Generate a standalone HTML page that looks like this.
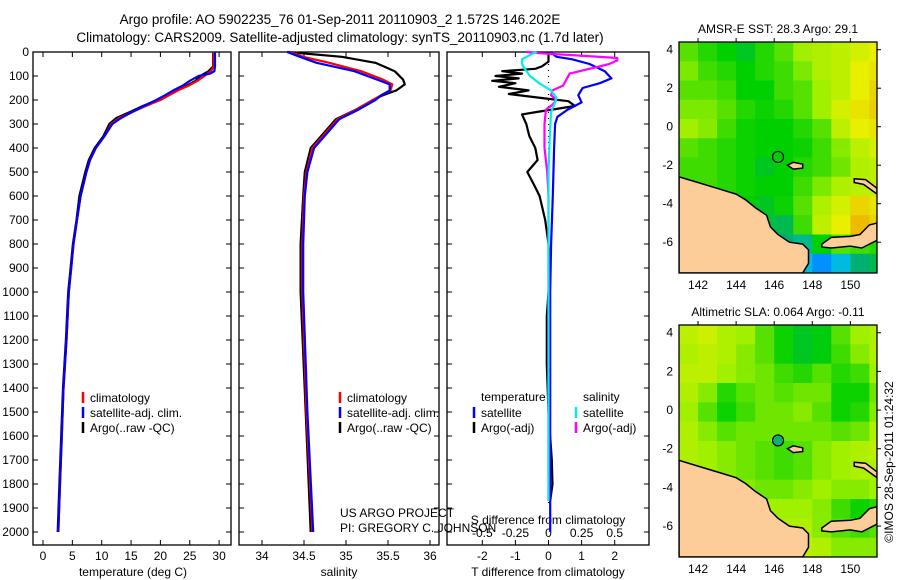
<!DOCTYPE html>
<html><head><meta charset="utf-8"><style>
html,body{margin:0;padding:0;background:#fff;}
svg{display:block;font-family:"Liberation Sans",sans-serif;}
</style></head><body>
<svg id="fig" width="900" height="580" viewBox="0 0 900 580">
<text x="340" y="24" font-size="13.5" text-anchor="middle">Argo profile: AO 5902235_76 01-Sep-2011 20110903_2 1.572S 146.202E</text>
<text x="340" y="42" font-size="13.5" text-anchor="middle">Climatology: CARS2009. Satellite-adjusted climatology: synTS_20110903.nc (1.7d later)</text>
<g id="p1"></g>
<g id="p2"></g>
<g id="p3"></g>
<g id="m1"></g>
<g id="m2"></g>
<text transform="translate(893,462) rotate(-90)" font-size="12" text-anchor="middle">©IMOS 28-Sep-2011 01:24:32</text>
</svg>
<script>
// ---- data ----
const tDepths=[0,20,40,60,80,90,100,120,140,160,180,200,225,250,275,300,350,400,450,500,600,700,800,900,1000,1200,1400,1600,1800,2000];
const tArgo=[29.0,29.0,29.0,29.0,28.2,27.5,26.8,26.0,24.5,22.5,21.0,19.5,17.0,14.8,12.5,11.3,10.3,8.8,7.8,7.2,6.2,5.7,5.1,4.7,4.3,3.9,3.4,3.1,2.8,2.5];
const tClim=[29.1,29.1,29.1,29.1,28.6,28.0,27.5,26.3,24.8,23.0,21.5,20.0,17.5,15.2,13.0,11.6,10.5,9.0,8.0,7.4,6.4,5.8,5.2,4.8,4.4,4.0,3.5,3.2,2.9,2.6];
const tSat=[29.3,29.3,29.3,29.3,29.2,28.5,26.5,25.0,23.8,22.2,20.8,19.3,17.2,15.2,13.3,11.8,10.5,9.0,8.0,7.4,6.4,5.8,5.2,4.8,4.4,4.0,3.5,3.2,2.9,2.6];
const sDepths=[0,20,45,80,115,135,160,180,200,240,280,340,400,500,600,800,1000,1500,2000];
const sArgo=[34.30,34.95,35.35,35.58,35.68,35.70,35.60,35.44,35.32,35.12,34.88,34.73,34.58,34.51,34.49,34.46,34.46,34.52,34.58];
const sClim=[34.33,34.49,34.80,35.18,35.44,35.55,35.53,35.42,35.32,35.13,34.90,34.75,34.60,34.53,34.50,34.48,34.48,34.53,34.60];
const sSat=[34.30,34.45,34.65,35.10,35.37,35.52,35.52,35.42,35.35,35.15,34.92,34.77,34.62,34.54,34.51,34.49,34.49,34.54,34.61];
const dtArgoDepths=[0,20,40,60,70,80,90,100,110,120,130,145,160,175,190,205,225,250,260,300,350,400,450,500,550,600,700,800,900,1000,1100,1300,1500,1700,1800,1870];
const dtArgo=[0.0,0.0,0.0,-0.2,-0.4,-1.4,-0.8,-1.6,-0.9,-1.7,-1.0,-1.5,-0.6,-1.2,-0.3,0.6,0.8,-0.36,-0.8,-0.67,-0.58,-0.4,-0.33,-0.64,-0.45,-0.27,-0.1,0.0,0.05,0.0,-0.05,-0.05,0.0,0.1,0.12,0.05];
const dtSatDepths=[0,20,30,50,80,110,130,150,180,210,240,270,300,400,600,800,1000,1500,2000];
const dtSat=[0.05,0.24,0.7,1.24,1.7,1.9,1.55,1.03,0.9,1.0,0.58,0.27,0.2,0.17,0.13,0.08,0.05,0.05,0.05];
const dsArgoDepths=[0,5,15,25,35,50,70,90,110,140,160,180,200,220,240,300,400,500,600,1000,1500,1870];
const dsArgo=[-0.17,-0.07,0.24,0.52,0.52,0.46,0.31,0.16,0.14,0.11,0.03,0.02,0.06,0.03,-0.02,-0.03,-0.03,-0.01,0.0,0.0,0.0,0.0];
const dsSatDepths=[0,10,30,50,70,100,130,160,190,210,250,350,500,1000,1500,1870];
const dsSat=[-0.09,-0.13,-0.2,-0.2,-0.18,-0.14,-0.07,0.02,0.06,0.05,0.02,0.01,0.0,0.0,0.0,0.0];
const depthTicks=[0,100,200,300,400,500,600,700,800,900,1000,1100,1200,1300,1400,1500,1600,1700,1800,1900,2000];
const tTicks=[0,5,10,15,20,25,30];
const sTicks=[34,34.5,35,35.5,36];
const dtTicks=[-2,-1,0,1,2];
const dsTicks=[-0.5,-0.25,0,0.25,0.5];
const dsTickLabels=["-0.5","-0.25","0","0.25","0.5"];
const lonTicks=[142,144,146,148,150];
const latTicks=[4,2,0,-2,-4,-6];
const sstGrid=[
[.62,.58,.55,.52,.58,.62,.68,.70,.72,.75,.78],
[.65,.60,.58,.55,.58,.60,.65,.70,.72,.78,.80],
[.62,.62,.60,.55,.55,.60,.62,.68,.72,.78,.82],
[.65,.65,.62,.58,.56,.58,.62,.68,.75,.80,.83],
[.68,.66,.60,.56,.55,.55,.58,.62,.72,.78,.80],
[.62,.60,.58,.56,.55,.55,.56,.60,.66,.72,.75],
[.60,.60,.58,.56,.52,.55,.58,.60,.64,.70,.72],
[.60,.60,.58,.56,.55,.55,.60,.65,.70,.72,.72],
[.58,.58,.56,.55,.52,.56,.62,.70,.75,.82,.80],
[.55,.55,.50,.48,.50,.48,.60,.72,.78,.86,.82],
[.50,.50,.45,.45,.45,.45,.42,.55,.62,.60,.58],
[.45,.45,.42,.42,.40,.42,.30,.20,.30,.45,.48]];
const slaGrid=[
[.72,.74,.70,.68,.62,.56,.52,.54,.62,.68,.70],
[.70,.72,.70,.66,.62,.56,.52,.54,.60,.66,.70],
[.72,.72,.68,.66,.64,.60,.58,.62,.58,.60,.68],
[.70,.66,.58,.62,.64,.62,.64,.64,.56,.56,.64],
[.68,.62,.56,.60,.64,.64,.66,.62,.56,.58,.66],
[.70,.66,.62,.64,.64,.64,.64,.64,.62,.64,.70],
[.70,.68,.66,.64,.62,.60,.62,.66,.68,.70,.72],
[.70,.68,.66,.64,.62,.60,.62,.66,.68,.70,.70],
[.70,.68,.68,.66,.64,.64,.66,.68,.66,.66,.68],
[.70,.70,.70,.68,.68,.68,.68,.66,.60,.56,.58],
[.70,.70,.70,.70,.70,.70,.70,.66,.62,.60,.62],
[.70,.70,.72,.72,.72,.72,.72,.70,.66,.66,.66]];
const mainland=[[141,-2.6],[142,-2.9],[143,-3.2],[144,-3.5],[144.5,-3.8],[145,-4.2],[145.6,-4.6],[145.8,-5.2],[146.2,-5.6],[146.8,-6.0],[147.5,-6.1],[147.8,-6.4],[147.8,-7.1],[147.5,-7.6],[141,-7.6]];
const newBritain=[[148.5,-6.1],[149,-5.75],[150,-5.7],[150.5,-5.6],[151,-5.1],[151.4,-5.0],[151.4,-5.9],[150.6,-6.3],[150,-6.2],[149,-6.3],[148.5,-6.25]];
const manus=[[146.7,-2.0],[147.0,-1.85],[147.5,-1.95],[147.5,-2.15],[147.0,-2.2]];
const newIreland=[[150.2,-2.7],[150.8,-2.75],[151.4,-3.2],[151.4,-3.5],[150.7,-3.0],[150.2,-2.9]];
const argoLon=146.202, argoLat=-1.572;

const NS="http://www.w3.org/2000/svg";
function mk(parent,tag,attrs,text){const e=document.createElementNS(NS,tag);for(const k in attrs)e.setAttribute(k,attrs[k]);if(text!==undefined)e.textContent=text;parent.appendChild(e);return e;}
const yD=d=>52+d*0.24;

function panel(g,x0,x1,showDepthLabels){
  const f=mk(g,'rect',{x:x0,y:52,width:x1-x0,height:493,fill:'none',stroke:'#000','stroke-width':1.3});
  
  
  depthTicks.forEach(d=>{
    mk(g,'line',{x1:x0,x2:x0+5,y1:yD(d),y2:yD(d),stroke:'#000'});
    mk(g,'line',{x1:x1-5,x2:x1,y1:yD(d),y2:yD(d),stroke:'#000'});
    if(showDepthLabels){const t=mk(g,'text',{x:x0-4,y:yD(d)+4,'font-size':12,'text-anchor':'end'},String(d));
      
      }
  });
}
function xTicks(g,vals,labels,sx,yLab,top,bot){
  vals.forEach((v,i)=>{const x=sx(v);
    if(top)mk(g,'line',{x1:x,x2:x,y1:52,y2:57,stroke:'#000'});
    if(bot)mk(g,'line',{x1:x,x2:x,y1:540,y2:545,stroke:'#000'});
    const t=mk(g,'text',{x:x,y:yLab,'font-size':12,'text-anchor':'middle'},labels[i]);
    
    
  });
}
function line(g,depths,vals,sx,color,name,w){
  const pts=depths.map((d,i)=>sx(vals[i]).toFixed(1)+','+yD(d).toFixed(1)).join(' ');
  const p=mk(g,'polyline',{points:pts,fill:'none',stroke:color,'stroke-width':w||2.2,'stroke-linejoin':'round'});
  
  
}
function legendEntry(g,x,y,color,label){
  mk(g,'line',{x1:x,x2:x,y1:y-10,y2:y+1,stroke:color,'stroke-width':2.5});
  const t=mk(g,'text',{x:x+7,y:y,'font-size':12},label);
  
  
}

// Panel 1: temperature
const g1=document.getElementById('p1');
const sxT=v=>43+v*5.87;
panel(g1,33,231,true);
xTicks(g1,tTicks,tTicks.map(String),sxT,560,true,true);
mk(g1,'text',{x:133,y:576,'font-size':12,'text-anchor':'middle',},'temperature (deg C)');
line(g1,tDepths,tArgo,sxT,'#000','temp-argo-line');
line(g1,tDepths,tClim,sxT,'#f00','temp-climatology-line');
line(g1,tDepths,tSat,sxT,'#00f','temp-satellite-line');
legendEntry(g1,83,402,'#f00','climatology');
legendEntry(g1,83,417,'#00f','satellite-adj. clim.');
legendEntry(g1,83,432,'#000','Argo(..raw -QC)');

// Panel 2: salinity
const g2=document.getElementById('p2');
const sxS=v=>262+(v-34)*84;
panel(g2,239,439,false);
xTicks(g2,sTicks,sTicks.map(String),sxS,560,true,true);
mk(g2,'text',{x:339,y:576,'font-size':12,'text-anchor':'middle',},'salinity');
line(g2,sDepths,sArgo,sxS,'#000','sal-argo-line');
line(g2,sDepths,sClim,sxS,'#f00','sal-climatology-line');
line(g2,sDepths,sSat,sxS,'#00f','sal-satellite-line');
legendEntry(g2,340,402,'#f00','climatology');
legendEntry(g2,340,417,'#00f','satellite-adj. clim.');
legendEntry(g2,340,432,'#000','Argo(..raw -QC)');
mk(g2,'text',{x:340,y:517,'font-size':12,},'US ARGO PROJECT');
mk(g2,'text',{x:340,y:532,'font-size':12,},'PI: GREGORY C. JOHNSON');

// Panel 3: differences
const g3=document.getElementById('p3');
const sxDT=v=>548.5+v*33.1;
const sxDS=v=>548.5+v*132.4;
panel(g3,447,649,false);
xTicks(g3,dtTicks,dtTicks.map(String),sxDT,560,true,true);
dsTicks.forEach((v,i)=>{const t=mk(g3,'text',{x:sxDS(v),y:537,'font-size':12,'text-anchor':'middle'},dsTickLabels[i]);
  
  });
mk(g3,'text',{x:548,y:524,'font-size':12,'text-anchor':'middle',},'S difference from climatology');
mk(g3,'text',{x:548,y:576,'font-size':12,'text-anchor':'middle',},'T difference from climatology');
mk(g3,'line',{x1:sxDT(0),x2:sxDT(0),y1:52,y2:yD(1900),stroke:'#000','stroke-dasharray':'1 5','stroke-width':1.2});
line(g3,dtArgoDepths,dtArgo,sxDT,'#000','t-diff-argo-line');
line(g3,dtSatDepths,dtSat,sxDT,'#00f','t-diff-satellite-line');
line(g3,dsArgoDepths,dsArgo,sxDS,'#f0f','s-diff-argo-line');
line(g3,dsSatDepths,dsSat,sxDS,'#0ee','s-diff-satellite-line');
mk(g3,'text',{x:481,y:401,'font-size':12,},'temperature');
mk(g3,'text',{x:583,y:401,'font-size':12,},'salinity');
legendEntry(g3,474,417,'#00f','satellite');
legendEntry(g3,474,432,'#000','Argo(-adj)');
legendEntry(g3,576,417,'#0ee','satellite');
legendEntry(g3,576,432,'#f0f','Argo(-adj)');

// Maps
const stops=[[0,[0,0,160]],[0.2,[0,144,255]],[0.35,[0,208,208]],[0.45,[0,176,112]],[0.55,[0,208,0]],[0.68,[160,240,0]],[0.78,[232,240,0]],[0.9,[240,160,0]],[1,[240,96,0]]];
function cmap(v){for(let i=1;i<stops.length;i++){if(v<=stops[i][0]){const a=stops[i-1],b=stops[i],t=(v-a[0])/(b[0]-a[0]);
  return 'rgb('+a[1].map((c,k)=>Math.round(c+(b[1][k]-c)*t)).join(',')+')';}}return 'rgb(240,96,0)';}
function drawMap(gid,y0,y1,grid,title){
  const g=document.getElementById(gid);
  const x0=679,x1=877,lon0=141,lon1=151.4,lat0=4.4,lat1=-7.6;
  const sx=l=>x0+(l-lon0)*(x1-x0)/(lon1-lon0);
  const sy=l=>y0+(lat0-l)*(y1-y0)/(lat0-lat1);
  const clip=gid+'clip';
  const cp=mk(g,'clipPath',{id:clip});mk(cp,'rect',{x:x0,y:y0,width:x1-x0,height:y1-y0});
  const cells=mk(g,'g',{'clip-path':'url(#'+clip+')'});
  grid.forEach((row,r)=>row.forEach((v,c)=>{
    const lonA=lon0+c,latA=lat0-r*((lat0-lat1)/grid.length);
    const rc=mk(cells,'rect',{x:sx(lonA),y:sy(latA),width:sx(lonA+1)-sx(lonA)+0.5,height:(y1-y0)/grid.length+0.5,fill:cmap(v)});
    
    
  }));
  [mainland,newBritain,manus,newIreland].forEach(poly=>{
    const p=mk(cells,'polygon',{points:poly.map(q=>sx(q[0]).toFixed(1)+','+sy(q[1]).toFixed(1)).join(' '),fill:'#fccc99',stroke:'#000','stroke-width':1.5});
    
    
  });
  const mk1=mk(g,'circle',{cx:sx(argoLon),cy:sy(argoLat),r:5.5,fill:gid==='m2'?'#10b070':'none',stroke:'#000','stroke-width':1.2});
  
  
  mk(g,'rect',{x:x0,y:y0,width:x1-x0,height:y1-y0,fill:'none',stroke:'#000','stroke-width':1.3});
  lonTicks.forEach(l=>{mk(g,'line',{x1:sx(l),x2:sx(l),y1:y0,y2:y0-4,stroke:'#000'});
    const t=mk(g,'text',{x:sx(l),y:y1+16,'font-size':12,'text-anchor':'middle'},String(l));
    
    });
  latTicks.forEach(l=>{mk(g,'line',{x1:x1,x2:x1+4,y1:sy(l),y2:sy(l),stroke:'#000'});
    const t=mk(g,'text',{x:x0-6,y:sy(l)+4,'font-size':12,'text-anchor':'end'},String(l));
    
    });
  const tt=mk(g,'text',{x:(x0+x1)/2,y:y0-9,'font-size':12,'text-anchor':'middle'},title);
  
  
}
drawMap('m1',42,273,sstGrid,'AMSR-E SST: 28.3 Argo: 29.1');
drawMap('m2',325,557,slaGrid,'Altimetric SLA: 0.064 Argo: -0.11');
</script>
</body></html>
